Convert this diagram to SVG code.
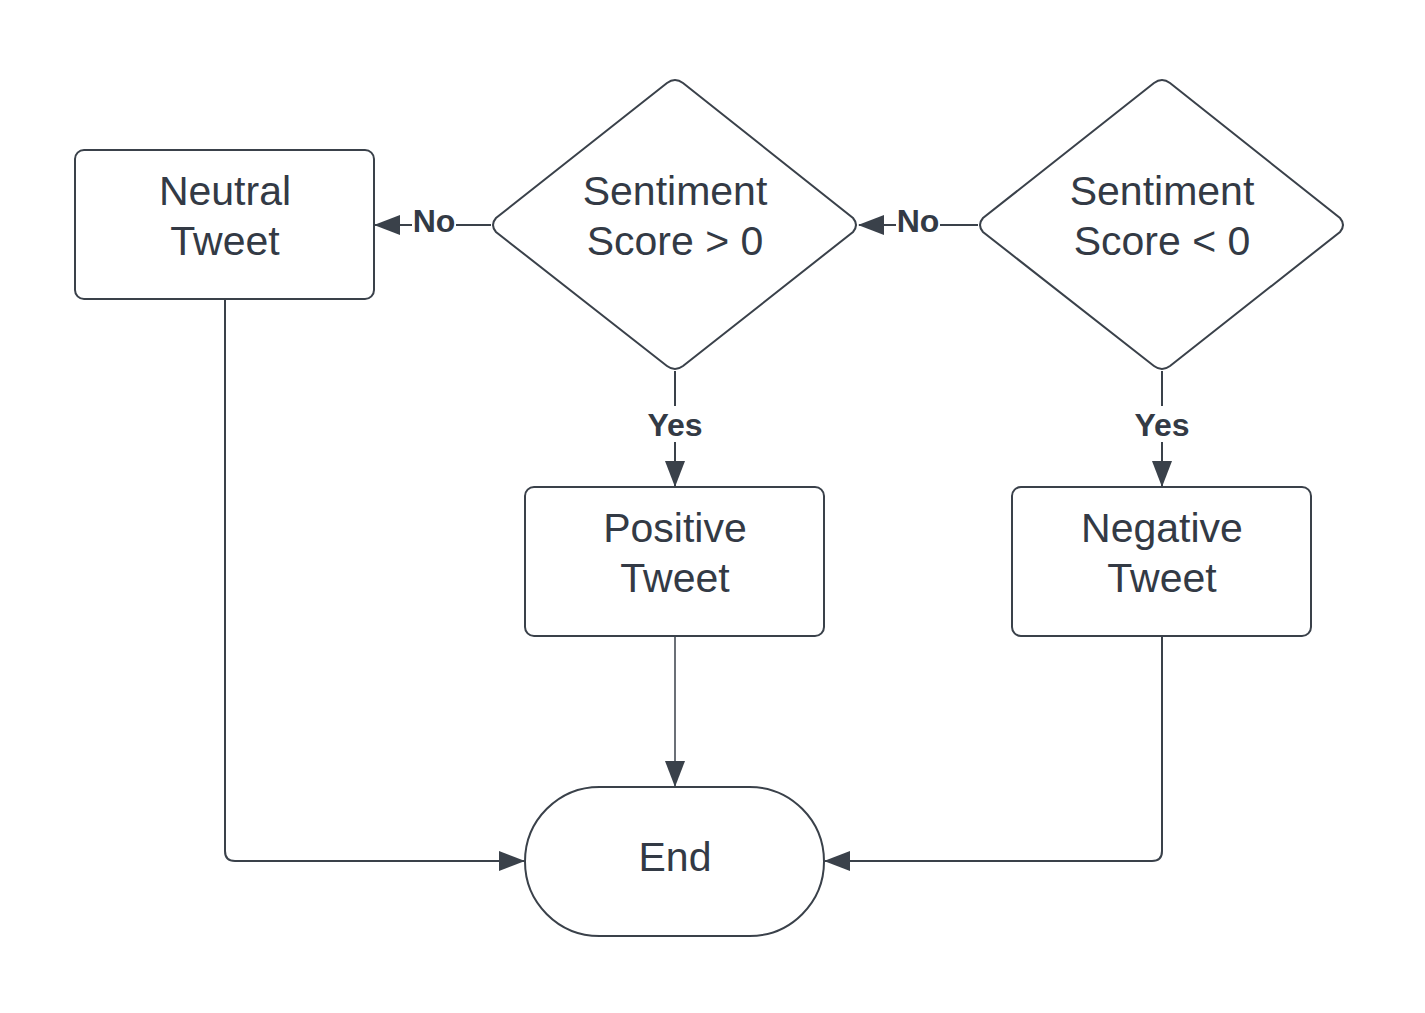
<svg xmlns="http://www.w3.org/2000/svg" width="1425" height="1013" viewBox="0 0 1425 1013">
<defs>
<style>
.shape{fill:#ffffff;stroke:#3a414a;stroke-width:2}
.t{font-family:"Liberation Sans",Arial,sans-serif;font-size:41px;fill:#333a45;text-anchor:middle}
.lbl{font-family:"Liberation Sans",Arial,sans-serif;font-size:32px;font-weight:bold;fill:#333a45;text-anchor:middle}
.c{fill:none;stroke:#3a414a;stroke-width:2}
</style>
<marker id="ah" viewBox="0 0 26 20" refX="25" refY="10" markerWidth="26" markerHeight="20" markerUnits="userSpaceOnUse" orient="auto">
<path d="M0,0 L26,10 L0,20 Z" fill="#3a414a"/>
</marker>
</defs>
<rect width="1425" height="1013" fill="#ffffff"/>
<g id="connectors">
<line class="c" x1="491" y1="225" x2="375" y2="225" marker-end="url(#ah)"/>
<line class="c" x1="978" y1="225" x2="859" y2="225" marker-end="url(#ah)"/>
<line class="c" x1="675" y1="371" x2="675" y2="486" marker-end="url(#ah)"/>
<line class="c" x1="1162" y1="371" x2="1162" y2="486" marker-end="url(#ah)"/>
<line class="c" x1="675" y1="636" x2="675" y2="786" marker-end="url(#ah)" style="stroke-width:1.5"/>
<path class="c" d="M225,299 L225,851 Q225,861 235,861 L524,861" marker-end="url(#ah)"/>
<path class="c" d="M1162,636 L1162,851 Q1162,861 1152,861 L825,861" marker-end="url(#ah)"/>
<rect x="412" y="204" width="44" height="34" fill="#ffffff"/>
<text class="lbl" x="434" y="232">No</text>
<rect x="896" y="204" width="44" height="34" fill="#ffffff"/>
<text class="lbl" x="918" y="232">No</text>
<rect x="644" y="406" width="62" height="36" fill="#ffffff"/>
<text class="lbl" x="675" y="436">Yes</text>
<rect x="1131" y="406" width="62" height="36" fill="#ffffff"/>
<text class="lbl" x="1162" y="436">Yes</text>
</g>
<g id="neutral">
<rect class="shape" x="75" y="150" width="299" height="149" rx="9"/>
<text class="t" x="225" y="205">Neutral</text>
<text class="t" x="225" y="255">Tweet</text>
</g>
<g id="decision1">
<path class="shape" d="M667,83 Q675,77 683,83 L853,218 Q859,225 853,232 L683,366 Q675,372 667,366 L496,232 Q490,225 496,218 Z"/>
<text class="t" x="675" y="205">Sentiment</text>
<text class="t" x="675" y="255">Score &gt; 0</text>
</g>
<g id="decision2">
<path class="shape" d="M1154,83 Q1162,77 1170,83 L1340,218 Q1346,225 1340,232 L1170,366 Q1162,372 1154,366 L983,232 Q977,225 983,218 Z"/>
<text class="t" x="1162" y="205">Sentiment</text>
<text class="t" x="1162" y="255">Score &lt; 0</text>
</g>
<g id="positive">
<rect class="shape" x="525" y="487" width="299" height="149" rx="9"/>
<text class="t" x="675" y="542">Positive</text>
<text class="t" x="675" y="592">Tweet</text>
</g>
<g id="negative">
<rect class="shape" x="1012" y="487" width="299" height="149" rx="9"/>
<text class="t" x="1162" y="542">Negative</text>
<text class="t" x="1162" y="592">Tweet</text>
</g>
<g id="end">
<rect class="shape" x="525" y="787" width="299" height="149" rx="74.5"/>
<text class="t" x="675" y="871">End</text>
</g>
</svg>
